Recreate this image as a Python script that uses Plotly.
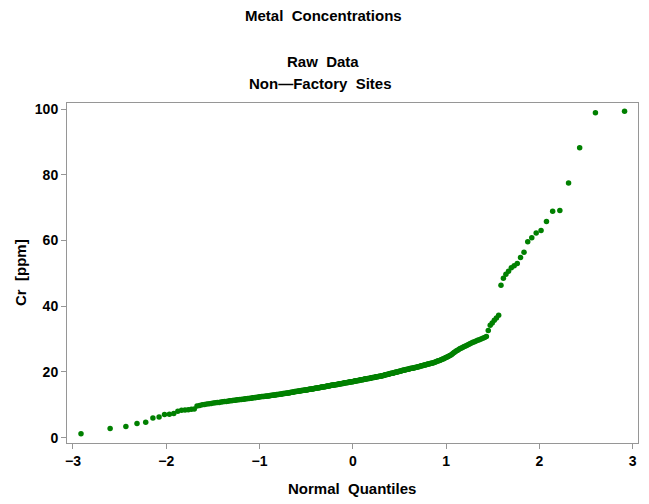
import statistics
import plotly.graph_objects as go

# Chromium concentrations (ppm) at non-factory sites, sorted ascending
cr_low = [
    1.2, 2.8, 3.4, 4.3, 4.7, 6.0, 6.3, 7.0, 7.1, 7.3,
    8.0, 8.3, 8.4, 8.5, 8.6, 8.7, 9.6, 9.8, 10.0, 10.1,
    10.2, 10.3, 10.4, 10.5, 10.6, 10.7, 10.7, 10.8, 10.9, 11.0,
    11.0, 11.1, 11.2, 11.2, 11.3, 11.4, 11.4, 11.5, 11.5, 11.6,
    11.6, 11.7, 11.7, 11.8, 11.8, 11.9, 11.9, 12.0, 12.0, 12.1,
    12.1, 12.2, 12.2, 12.3, 12.3, 12.4, 12.4, 12.5, 12.5, 12.5,
]
cr_mid_low = [
    12.6, 12.6, 12.7, 12.7, 12.7, 12.8, 12.8, 12.9, 12.9, 13.0,
    13.0, 13.0, 13.1, 13.1, 13.1, 13.2, 13.2, 13.3, 13.3, 13.4,
    13.4, 13.4, 13.5, 13.5, 13.6, 13.6, 13.6, 13.7, 13.7, 13.8,
    13.8, 13.9, 13.9, 14.0, 14.0, 14.0, 14.1, 14.1, 14.2, 14.2,
    14.2, 14.3, 14.3, 14.3, 14.4, 14.4, 14.5, 14.5, 14.5, 14.6,
    14.6, 14.7, 14.7, 14.7, 14.8, 14.8, 14.8, 14.9, 14.9, 15.0,
    15.0, 15.0, 15.1, 15.1, 15.2, 15.2, 15.2, 15.3, 15.3, 15.4,
    15.4, 15.4, 15.5, 15.5, 15.5, 15.6, 15.6, 15.7, 15.7, 15.7,
    15.8, 15.8, 15.9, 15.9, 15.9, 16.0, 16.0, 16.0, 16.1, 16.1,
    16.2, 16.2, 16.2, 16.3, 16.3, 16.3, 16.4, 16.4, 16.5, 16.5,
    16.5, 16.6, 16.6, 16.7, 16.7, 16.7, 16.8, 16.8, 16.8, 16.9,
    16.9, 16.9, 17.0, 17.0, 17.0,
]
cr_mid_high = [
    17.1, 17.1, 17.2, 17.2, 17.2, 17.3, 17.3, 17.4, 17.4, 17.4,
    17.5, 17.5, 17.6, 17.6, 17.6, 17.7, 17.7, 17.8, 17.8, 17.8,
    17.9, 17.9, 18.0, 18.0, 18.0, 18.1, 18.1, 18.2, 18.2, 18.3,
    18.3, 18.3, 18.4, 18.4, 18.5, 18.5, 18.5, 18.6, 18.6, 18.7,
    18.7, 18.7, 18.8, 18.8, 18.9, 18.9, 19.0, 19.1, 19.1, 19.2,
    19.2, 19.3, 19.3, 19.4, 19.5, 19.5, 19.6, 19.6, 19.7, 19.7,
    19.8, 19.9, 19.9, 20.0, 20.0, 20.1, 20.1, 20.2, 20.3, 20.3,
    20.4, 20.5, 20.5, 20.6, 20.6, 20.7, 20.7, 20.8, 20.8, 20.9,
    21.0, 21.0, 21.1, 21.1, 21.2, 21.2, 21.3, 21.3, 21.4, 21.5,
    21.6, 21.6, 21.7, 21.8, 21.9, 21.9, 22.0, 22.1, 22.1, 22.2,
    22.3, 22.4, 22.4, 22.5, 22.6, 22.6, 22.7, 22.8,
]
cr_upper = [
    22.9, 23.0, 23.2, 23.3, 23.4, 23.5, 23.6, 23.8, 23.9, 24.0,
    24.2, 24.4, 24.5, 24.7, 24.9, 25.1, 25.3, 25.6, 25.9, 26.1,
    26.4, 26.6, 26.9, 27.1, 27.3, 27.5, 27.7, 27.9, 28.1, 28.3,
    28.6, 28.8, 29.0, 29.2, 29.4, 29.6, 29.8, 30.0, 30.2, 30.5,
    30.8,
]
cr_tail = [
    32.6, 34.2, 34.9, 35.7, 36.4, 37.2,
    46.4, 48.5, 49.7, 50.6, 51.7, 52.3, 53.0, 54.8, 56.4, 59.6,
    60.8, 62.3, 63.0, 65.8, 68.9, 69.1, 77.5, 88.2, 98.9, 99.3,
]

cr_ppm = sorted(cr_low + cr_mid_low + cr_mid_high + cr_upper + cr_tail)

# Normal scores (Blom plotting positions) for the sorted sample
n = len(cr_ppm)
std_normal = statistics.NormalDist()
normal_q = [std_normal.inv_cdf((i - 0.375) / (n + 0.25)) for i in range(1, n + 1)]

x_ticks = [-3, -2, -1, 0, 1, 2, 3]
y_ticks = [0, 20, 40, 60, 80, 100]

FONT = "Liberation Sans, Arial, Helvetica, sans-serif"
GREEN = "rgb(0,128,0)"
FRAME = "rgb(150,150,150)"

fig = go.Figure()
fig.add_trace(go.Scatter(
    x=normal_q,
    y=cr_ppm,
    mode="markers",
    marker=dict(color=GREEN, size=5.5, line=dict(width=0)),
    hoverinfo="x+y",
    showlegend=False,
))

axis_common = dict(
    showgrid=False,
    zeroline=False,
    showline=True,
    mirror=True,
    linecolor=FRAME,
    linewidth=1,
    ticks="outside",
    ticklen=5,
    tickwidth=1,
    tickcolor=FRAME,
    tickfont=dict(family=FONT, size=14, color="black", weight="bold"),
)

fig.update_xaxes(range=[-3.064, 3.058], tickvals=x_ticks, **axis_common)
fig.update_yaxes(range=[-1.64, 101.83], tickvals=y_ticks, **axis_common)

title_font = dict(family=FONT, size=15, color="black", weight="bold")
label_font = dict(family=FONT, size=15, color="black", weight="bold")

annotations = [
    dict(text="Metal\u00a0 Concentrations", x=0.449, y=1, yshift=88, font=title_font),
    dict(text="Raw\u00a0 Data", x=0.449, y=1, yshift=42, font=title_font),
    dict(text="Non\u2014Factory\u00a0 Sites", x=0.444, y=1, yshift=20, font=title_font),
    dict(text="Normal\u00a0 Quantiles", x=0.499, y=0, yshift=-45, font=label_font),
    dict(text="Cr\u00a0 [ppm]", x=0, y=0.5, xshift=-47, textangle=-90, font=label_font),
]
for a in annotations:
    a.update(xref="paper", yref="paper", showarrow=False,
             xanchor="center", yanchor="middle")

fig.update_layout(
    width=649,
    height=504,
    margin=dict(l=67, r=11, t=103, b=61),
    paper_bgcolor="white",
    plot_bgcolor="white",
    annotations=annotations,
)

fig.write_html("out.html")
